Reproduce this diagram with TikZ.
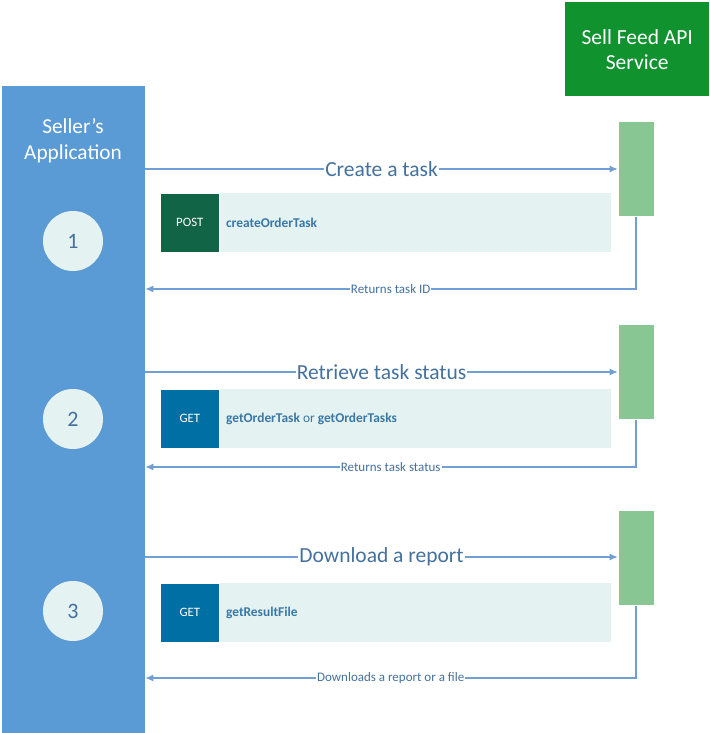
\documentclass[tikz,border=0pt]{standalone}
\usepackage{fontspec}
\setmainfont{Carlito}
\usetikzlibrary{arrows.meta,positioning}
\definecolor{appblue}{HTML}{5B9BD5}
\definecolor{apigreen}{HTML}{10922F}
\definecolor{actgreen}{HTML}{88C794}
\definecolor{panelbg}{HTML}{E4F2F1}
\definecolor{postgreen}{HTML}{126446}
\definecolor{getblue}{HTML}{0070A4}
\definecolor{msgline}{HTML}{6F9FD4}
\definecolor{msgtext}{HTML}{44719E}
\definecolor{calltext}{HTML}{3A78A6}
\begin{document}
\begin{tikzpicture}[x=1pt, y=-1pt,
    lane/.style={rectangle, inner sep=0pt, anchor=north west, text=white, align=center},
    actbar/.style={rectangle, fill=actgreen, draw=white, line width=0.6pt, minimum width=36pt, minimum height=95pt, inner sep=0pt},
    panel/.style={rectangle, fill=panelbg, minimum width=451pt, minimum height=59pt, inner sep=0pt, anchor=north west},
    verb/.style={rectangle, text=white, draw=white, line width=0.6pt, minimum width=59pt, minimum height=59pt, inner sep=0pt, anchor=north west, font=\fontsize{12.8}{15}\selectfont},
    call/.style={anchor=west, text=calltext, font=\fontsize{13.4}{16}\selectfont},
    stepno/.style={circle, fill=panelbg, minimum size=60pt, inner sep=0pt, text=msgtext, font=\fontsize{22}{26}\selectfont},
    msg/.style={draw=msgline, line width=1.1pt, -{Latex[length=8pt,width=7pt]}},
    biglabel/.style={fill=white, inner sep=1pt, text=msgtext, font=\fontsize{21.5}{25}\selectfont},
    smalllabel/.style={fill=white, inner sep=1pt, text=msgtext, font=\fontsize{13}{15}\selectfont}
]
\useasboundingbox (0,0) rectangle (709,733);

% Lanes
\node[lane, fill=appblue, minimum width=143pt, minimum height=647pt] (seller) at (2,86) {};
\node[text=white, align=center, font=\fontsize{21.3}{26}\selectfont] (sellername) at (73,141) {Seller’s\\Application};
\node[lane, fill=apigreen, minimum width=144pt, minimum height=94pt, font=\fontsize{21.5}{25}\selectfont] (api) at (565,2) {Sell Feed API\\Service};

% Activation bars
\node[actbar] (act1) at (636,169) {};
\node[actbar] (act2) at (636,372) {};
\node[actbar] (act3) at (636,558) {};

% Step 1
\node[stepno] (num1) at (73,241) {1};
\node[panel] (panel1) at (160,193) {};
\node[verb, fill=postgreen] (verb1) at (160,193) {POST};
\node[call, right=3pt of verb1] (call1) {\textbf{createOrderTask}};
\draw[msg] (seller.east |- 0,169) -- node[biglabel] {Create a task} (act1.west |- 0,169);
\draw[msg] (act1.south) -- (act1.south |- 0,289) -- node[smalllabel] {Returns task ID} (seller.east |- 0,289);

% Step 2
\node[stepno] (num2) at (73,419) {2};
\node[panel] (panel2) at (160,389) {};
\node[verb, fill=getblue] (verb2) at (160,389) {GET};
\node[call, right=3pt of verb2] (call2) {\textbf{getOrderTask} or \textbf{getOrderTasks}};
\draw[msg] (seller.east |- 0,372) -- node[biglabel] {Retrieve task status} (act2.west |- 0,372);
\draw[msg] (act2.south) -- (act2.south |- 0,467) -- node[smalllabel] {Returns task status} (seller.east |- 0,467);

% Step 3
\node[stepno] (num3) at (73,611) {3};
\node[panel] (panel3) at (160,583) {};
\node[verb, fill=getblue] (verb3) at (160,583) {GET};
\node[call, right=3pt of verb3] (call3) {\textbf{getResultFile}};
\draw[msg] (seller.east |- 0,557) -- node[biglabel] {Download a report} (act3.west |- 0,557);
\draw[msg] (act3.south) -- (act3.south |- 0,678) -- node[smalllabel] {Downloads a report or a file} (seller.east |- 0,678);

\end{tikzpicture}
\end{document}
